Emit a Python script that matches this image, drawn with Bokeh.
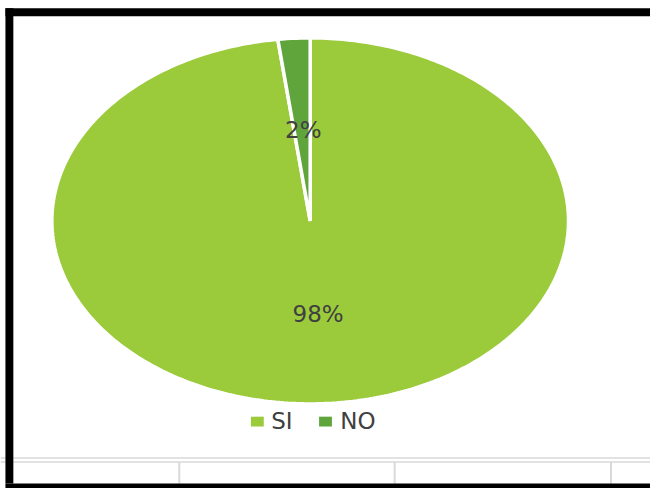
import numpy as np
from bokeh.plotting import figure
from bokeh.models import Range1d, ColumnDataSource
from bokeh.core.properties import value
from bokeh.embed import file_html
from bokeh.resources import INLINE

# ---- data ----
categories = ["SI", "NO"]
values = [98, 2]
labels = ["98%", "2%"]
colors = ["#9BCB3B", "#5FA53B"]

# ---- layout (reference pixel coordinates) ----
W, H = 650, 488
cx, cy = 313.5, 224.0
rx, ry = 261.5, 186.0

p = figure(width=W, height=H, output_backend="svg", toolbar_location=None,
           x_range=Range1d(0, 658), y_range=Range1d(496, 0),
           min_border=0, outline_line_color=None)
p.axis.visible = False
p.grid.visible = False
p.background_fill_color = "white"
p.border_fill_color = "white"

# ---- pie (elliptical, clockwise from 12 o'clock) ----
total = float(sum(values))
fracs = np.array(values) / total
ends = np.cumsum(fracs) * 2 * np.pi
starts = ends - fracs * 2 * np.pi
xs, ys = [], []
for a0, a1 in zip(starts, ends):
    t = np.linspace(a0, a1, max(3, int((a1 - a0) / (2 * np.pi) * 400)))
    xs.append([cx] + list(cx + rx * np.sin(t)) + [cx])
    ys.append([cy] + list(cy - ry * np.cos(t)) + [cy])
src = ColumnDataSource(dict(xs=xs, ys=ys, color=colors, cat=categories))
p.patches("xs", "ys", source=src, fill_color="color", line_color="white", line_width=3.5)

# ---- data labels ----
lsrc = ColumnDataSource(dict(x=[cx + 8, cx - 7], y=[319, 132], t=labels))
p.text("x", "y", text="t", source=lsrc, text_align="center", text_baseline="middle",
       text_font=value("DejaVu Sans"), text_font_size="23px", text_color="#404040")

# ---- legend ----
leg_sq_x = [260, 329]
leg_tx_x = [274, 344]
leg_y = 427
p.rect(x=leg_sq_x, y=[leg_y + 1] * 2, width=13, height=10, fill_color=colors, line_color=None)
p.text(x=leg_tx_x, y=[leg_y] * 2, text=categories, text_align="left", text_baseline="middle",
       text_font=value("DejaVu Sans"), text_font_size="23px", text_color="#404040")

# ---- spreadsheet background decorations ----
p.segment(x0=[0, 0], y0=[465, 469], x1=[658, 658], y1=[465, 469], line_color="#D9D9D9", line_width=1.5)
p.segment(x0=[181, 399, 618], y0=[469] * 3, x1=[181, 399, 618], y1=[491] * 3,
          line_color="#D9D9D9", line_width=2)
# black frame pieces
p.quad(left=[5, 5, 5], right=[658, 13, 658], top=[8, 8, 491], bottom=[16, 491, 496],
       fill_color="black", line_color=None)

open("out.html", "w").write(file_html(p, INLINE))
